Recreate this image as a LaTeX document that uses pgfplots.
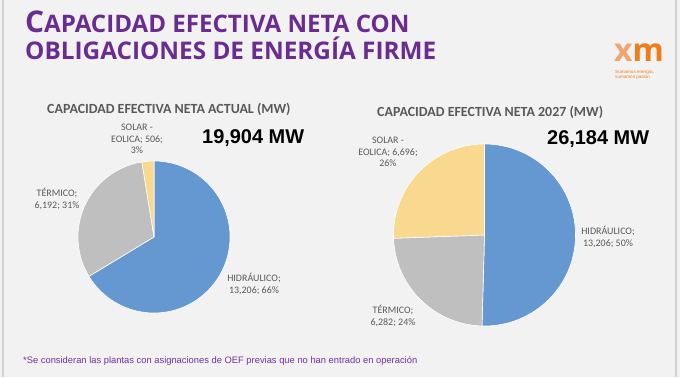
\documentclass[border=0pt]{standalone}
\usepackage{pgfplots}
\pgfplotsset{compat=1.18}
\usepackage{pgfplotstable}
\usepackage{fontspec}
\setmainfont{Carlito}
\newfontfamily\opensans{Open Sans}
\newfontfamily\arial{Liberation Sans}
\definecolor{bg}{HTML}{F2F2F2}
\definecolor{pblue}{HTML}{6597D0}
\definecolor{pgray}{HTML}{BFBFBF}
\definecolor{pyellow}{HTML}{F9D88F}
\definecolor{titlec}{HTML}{6B2C91}
\definecolor{lbl}{HTML}{595959}
\definecolor{foot}{HTML}{7030A0}
\definecolor{xmorange}{HTML}{F07D1A}
\definecolor{xmlight}{HTML}{F2A46A}

\pgfplotstableread{
tipo valor
Hidraulico 13206
Termico 6192
Solar 506
}\actual
\pgfplotstableread{
tipo valor
Hidraulico 13206
Termico 6282
Solar 6696
}\futuro

\pgfplotstablegetelem{0}{valor}\of\actual \pgfmathsetmacro\aH{\pgfplotsretval/1000}
\pgfplotstablegetelem{1}{valor}\of\actual \pgfmathsetmacro\aT{\pgfplotsretval/1000}
\pgfplotstablegetelem{2}{valor}\of\actual \pgfmathsetmacro\aS{\pgfplotsretval/1000}
\pgfmathsetmacro\aTot{\aH+\aT+\aS}
\pgfmathsetmacro\aA{90-360*(\aH/\aTot)}
\pgfmathsetmacro\aB{90-360*((\aH+\aT)/\aTot)}

\pgfplotstablegetelem{0}{valor}\of\futuro \pgfmathsetmacro\fH{\pgfplotsretval/1000}
\pgfplotstablegetelem{1}{valor}\of\futuro \pgfmathsetmacro\fT{\pgfplotsretval/1000}
\pgfplotstablegetelem{2}{valor}\of\futuro \pgfmathsetmacro\fS{\pgfplotsretval/1000}
\pgfmathsetmacro\fTot{\fH+\fT+\fS}
\pgfmathsetmacro\fA{90-360*(\fH/\fTot)}
\pgfmathsetmacro\fB{90-360*((\fH+\fT)/\fTot)}

\begin{document}
\begin{tikzpicture}[x=1bp,y=1bp]
\path[use as bounding box] (0,0) rectangle (680,377);
\fill[bg] (0,0) rectangle (680,377);
\draw[black!18, line width=1.5bp] (3,0) -- (3,377);
\draw[black!18, line width=1.5bp] (676,0) -- (676,377);

% Title
\node[anchor=base west, inner sep=0pt, text=titlec, font=\opensans\bfseries] at (25,345)
  {\fontsize{30}{30}\selectfont C\fontsize{24.2}{24}\selectfont APACIDAD EFECTIVA NETA CON};
\node[anchor=base west, inner sep=0pt, text=titlec, font=\opensans\bfseries] at (25,318)
  {\fontsize{24.4}{24}\selectfont OBLIGACIONES DE ENERGÍA FIRME};

% Logo
\node[anchor=base west, inner sep=0pt, font=\opensans\bfseries] at (614,316)
  {\fontsize{32}{32}\selectfont\textcolor{xmlight}{x}\textcolor{xmorange}{m}};
\node[anchor=north west, inner sep=0pt, align=left, text=xmorange, font=\arial\fontsize{4.6}{5.2}\selectfont] at (615,307)
  {Sumamos energía,\\ sumamos pasión};

% Subtitles
\node[anchor=base west, inner sep=0pt, text=lbl, font=\bfseries] at (47,264)
  {\fontsize{14}{14}\selectfont CAPACIDAD EFECTIVA NETA ACTUAL (MW)};
\node[anchor=base west, inner sep=0pt, text=lbl, font=\bfseries] at (377,261)
  {\fontsize{14}{14}\selectfont CAPACIDAD EFECTIVA NETA 2027 (MW)};

% Totals
\node[anchor=base west, inner sep=0pt, font=\arial\bfseries] at (202,234)
  {\fontsize{20}{20}\selectfont 19,904 MW};
\node[anchor=base west, inner sep=0pt, font=\arial\bfseries] at (547,233)
  {\fontsize{20}{20}\selectfont 26,184 MW};

% Left pie
\begin{axis}[at={(154bp,140bp)}, anchor=center, width=152bp, height=152bp, scale only axis,
  hide axis, xmin=-1, xmax=1, ymin=-1, ymax=1, clip=false]
\addplot[fill=pblue, draw=white, line width=0.6pt, domain=\aA:90, samples=120, variable=\t]
  ({cos(t)},{sin(t)}) -- (axis cs:0,0) -- cycle;
\addplot[fill=pgray, draw=white, line width=0.6pt, domain=\aB:\aA, samples=80, variable=\t]
  ({cos(t)},{sin(t)}) -- (axis cs:0,0) -- cycle;
\addplot[fill=pyellow, draw=white, line width=0.6pt, domain=-270:\aB, samples=10, variable=\t]
  ({cos(t)},{sin(t)}) -- (axis cs:0,0) -- cycle;
\end{axis}

% Right pie
\begin{axis}[at={(484.5bp,142bp)}, anchor=center, width=182bp, height=182bp, scale only axis,
  hide axis, xmin=-1, xmax=1, ymin=-1, ymax=1, clip=false]
\addplot[fill=pblue, draw=white, line width=0.6pt, domain=\fA:90, samples=120, variable=\t]
  ({cos(t)},{sin(t)}) -- (axis cs:0,0) -- cycle;
\addplot[fill=pgray, draw=white, line width=0.6pt, domain=\fB:\fA, samples=80, variable=\t]
  ({cos(t)},{sin(t)}) -- (axis cs:0,0) -- cycle;
\addplot[fill=pyellow, draw=white, line width=0.6pt, domain=-270:\fB, samples=80, variable=\t]
  ({cos(t)},{sin(t)}) -- (axis cs:0,0) -- cycle;
\end{axis}

% Data labels
\tikzset{dl/.style={align=center, inner sep=0pt, text=lbl, font=\fontsize{10}{11.5}\selectfont}}
\node[dl] at (137,238) {SOLAR -\\EOLICA; 506;\\3\%};
\node[dl] at (57,178) {TÉRMICO;\\6,192; 31\%};
\node[dl] at (254,93) {HIDRÁULICO;\\13,206; 66\%};
\node[dl] at (388,225) {SOLAR -\\EOLICA; 6,696;\\26\%};
\node[dl] at (393,61) {TÉRMICO;\\6,282; 24\%};
\node[dl] at (608,140) {HIDRÁULICO;\\13,206; 50\%};

% Footnote
\node[anchor=base west, inner sep=0pt, text=foot, font=\arial] at (23,14)
  {\fontsize{9.4}{10}\selectfont *Se consideran las plantas con asignaciones de OEF previas que no han entrado en operación};
\end{tikzpicture}
\end{document}
